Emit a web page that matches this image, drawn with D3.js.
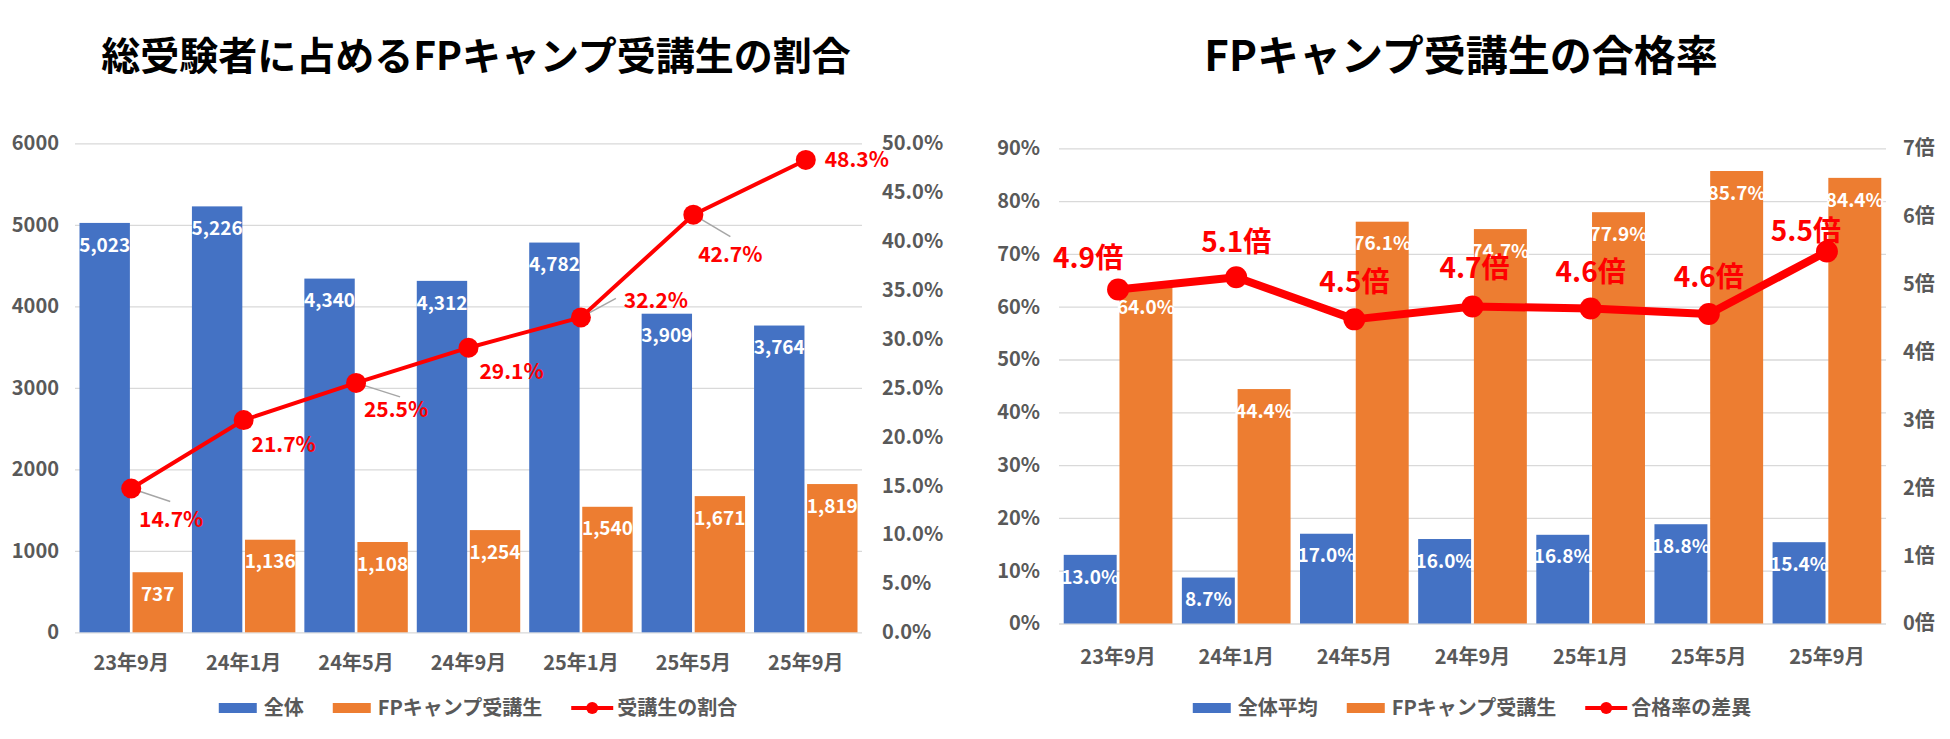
<!DOCTYPE html>
<html>
<head>
<meta charset="utf-8">
<script src="https://cdn.jsdelivr.net/npm/d3@7"></script>
<style>
	body { margin: 0; background: #fff; }
	svg { display: block; font-family: "Noto Sans CJK JP", "Noto Sans", sans-serif; }
	.title { font-size: 40px; font-weight: bold; fill: #000; }
	.axis text { fill: #595959; font-size: 20px; font-weight: bold; font-family: "Noto Sans CJK JP", "Noto Sans", sans-serif; }
	.axis .domain { display: none; }
	.grid line { stroke: #d9d9d9; stroke-width: 1.3; }
	.bar-label { fill: #fff; font-size: 19px; font-weight: bold; }
	.line-label { fill: #ff0000; font-weight: bold; }
	.leader { stroke: #a6a6a6; stroke-width: 1.5; }
	.legend text { fill: #595959; font-size: 20px; font-weight: bold; }
</style>
</head>
<body>
<svg width="1950" height="739"></svg>
<script>
var categories = ["23年9月", "24年1月", "24年5月", "24年9月", "25年1月", "25年5月", "25年9月"]

// 左: 総受験者に占めるFPキャンプ受講生の割合
var totalExaminees = [5023, 5226, 4340, 4312, 4782, 3909, 3764]
var campExaminees  = [737, 1136, 1108, 1254, 1540, 1671, 1819]
var campShare      = [14.7, 21.7, 25.5, 29.1, 32.2, 42.7, 48.3]
var countTicks     = [0, 1000, 2000, 3000, 4000, 5000, 6000]
var shareTicks     = [0, 5, 10, 15, 20, 25, 30, 35, 40, 45, 50]

// 右: FPキャンプ受講生の合格率
var overallPassRate = [13.0, 8.7, 17.0, 16.0, 16.8, 18.8, 15.4]
var campPassRate    = [64.0, 44.4, 76.1, 74.7, 77.9, 85.7, 84.4]
var passRatio       = [4.92, 5.10, 4.48, 4.67, 4.64, 4.56, 5.48]
var rateTicks       = [0, 10, 20, 30, 40, 50, 60, 70, 80, 90]
var ratioTicks      = [0, 1, 2, 3, 4, 5, 6, 7]

var blue = "#4472c4", orange = "#ed7d31", red = "#ff0000"

var svg = d3.select("svg")

function drawChart(opt){
	var g = svg.append("g")

	var x0 = d3.scaleBand().domain(categories).range([opt.left, opt.right])
	var bw = x0.bandwidth()
	var x1 = d3.scaleBand().domain([0, 1]).range([bw * 0.04, bw * 0.96]).paddingInner(0.05)
	var y  = d3.scaleLinear().domain([0, d3.max(opt.yTicks)]).range([opt.bottom, opt.top])
	var y2 = d3.scaleLinear().domain([0, d3.max(opt.y2Ticks)]).range([opt.bottom, opt.top])

	g.append("text")
		.attr("class", "title")
		.attr("x", opt.titleX)
		.attr("y", 56)
		.attr("dy", "0.35em")
		.attr("text-anchor", "middle")
		.style("font-size", opt.titleSize + "px")
		.text(opt.title)

	// grid + left labels
	g.append("g")
		.attr("class", "axis grid")
		.attr("transform", "translate(" + opt.left + ",0)")
		.call(d3.axisLeft(y).tickValues(opt.yTicks).tickSize(-(opt.right - opt.left)).tickPadding(opt.padL).tickFormat(opt.yFormat))

	g.append("g")
		.attr("class", "axis")
		.attr("transform", "translate(" + opt.right + ",0)")
		.call(d3.axisRight(y2).tickValues(opt.y2Ticks).tickSize(0).tickPadding(opt.padR).tickFormat(opt.y2Format))

	var xAxis = g.append("g")
		.attr("class", "axis")
		.attr("transform", "translate(0," + opt.bottom + ")")
		.call(d3.axisBottom(x0).tickSize(0))
	xAxis.selectAll("text").attr("y", opt.xLabelOffset).attr("dy", "0.35em")

	// bars
	opt.bars.forEach(function(s, i){
		var grp = g.append("g")
		grp.selectAll("rect")
				.data(s.values)
			.enter().append("rect")
				.attr("x", function(d, j){ return x0(categories[j]) + x1(i) })
				.attr("y", function(d){ return y(d) })
				.attr("width", x1.bandwidth())
				.attr("height", function(d){ return opt.bottom - y(d) })
				.attr("fill", s.color)
		grp.selectAll("text")
				.data(s.values)
			.enter().append("text")
				.attr("class", "bar-label")
				.attr("x", function(d, j){ return x0(categories[j]) + x1(i) + x1.bandwidth() / 2 })
				.attr("y", function(d){ return y(d) + 22 })
				.attr("dy", "0.35em")
				.attr("text-anchor", "middle")
				.text(function(d){ return opt.barFormat(d) })
	})

	// line
	var cx = function(j){ return x0(categories[j]) + bw / 2 }
	var line = d3.line()
		.x(function(d, j){ return cx(j) })
		.y(function(d){ return y2(d) })

	// leader lines under the markers
	var leaders = g.append("g")
	opt.line.values.forEach(function(d, j){
		if (!opt.leaders[j]) return
		leaders.append("line")
			.attr("class", "leader")
			.attr("x1", cx(j))
			.attr("y1", y2(d))
			.attr("x2", cx(j) + opt.leaders[j][0])
			.attr("y2", y2(d) + opt.leaders[j][1])
	})

	g.append("path")
		.datum(opt.line.values)
		.attr("fill", "none")
		.attr("stroke", red)
		.attr("stroke-width", opt.lineWidth)
		.attr("stroke-linejoin", "round")
		.attr("d", line)

	g.selectAll(".marker")
			.data(opt.line.values)
		.enter().append("circle")
			.attr("class", "marker")
			.attr("cx", function(d, j){ return cx(j) })
			.attr("cy", function(d){ return y2(d) })
			.attr("r", opt.markerR)
			.attr("fill", red)

	g.selectAll(".line-label")
			.data(opt.line.values)
		.enter().append("text")
			.attr("class", "line-label")
			.attr("x", function(d, j){ return cx(j) + opt.labelShift[j][0] })
			.attr("y", function(d, j){ return y2(d) + opt.labelShift[j][1] })
			.attr("dy", "0.35em")
			.attr("text-anchor", "middle")
			.style("font-size", opt.lineLabelSize + "px")
			.text(function(d){ return opt.lineFormat(d) })

	// legend
	var items = [
		{ name: opt.bars[0].name, color: opt.bars[0].color, type: "rect" },
		{ name: opt.bars[1].name, color: opt.bars[1].color, type: "rect" },
		{ name: opt.line.name, color: red, type: "line" }
	]
	var legend = g.append("g").attr("class", "legend")
	var xpos = 0
	items.forEach(function(it){
		var item = legend.append("g").attr("transform", "translate(" + xpos + ",0)")
		if (it.type == "rect") {
			item.append("rect").attr("x", 0).attr("y", -5).attr("width", 38).attr("height", 10).attr("fill", it.color)
		} else {
			item.append("line").attr("x1", 0).attr("x2", 42).attr("y1", 0).attr("y2", 0)
				.attr("stroke", red).attr("stroke-width", 4)
			item.append("circle").attr("cx", 21).attr("cy", 0).attr("r", 6).attr("fill", red)
		}
		var t = item.append("text")
			.attr("x", it.type == "rect" ? 45 : 46)
			.attr("dy", "0.35em")
			.text(it.name)
		xpos += (it.type == "rect" ? 45 : 46) + t.node().getComputedTextLength() + 29
	})
	var lw = xpos - 29
	legend.attr("transform", "translate(" + (opt.legendX - lw / 2) + ",708)")
}

drawChart({
	title: "総受験者に占めるFPキャンプ受講生の割合",
	titleX: 476, titleSize: 39,
	left: 75, right: 862, top: 143.3, bottom: 632.3,
	yTicks: countTicks, yFormat: d3.format("d"), padL: 16,
	y2Ticks: shareTicks, y2Format: function(d){ return d3.format(".1f")(d) + "%" }, padR: 20,
	xLabelOffset: 31,
	bars: [
		{ name: "全体", values: totalExaminees, color: blue },
		{ name: "FPキャンプ受講生", values: campExaminees, color: orange }
	],
	barFormat: d3.format(","),
	line: { name: "受講生の割合", values: campShare },
	lineWidth: 4, markerR: 10, lineLabelSize: 21,
	lineFormat: function(d){ return d3.format(".1f")(d) + "%" },
	labelShift: [[40, 31], [40, 25], [40, 27], [43, 24], [75, -17], [37, 40], [51, 0]],
	leaders: [[39, 13], null, [44, 14], null, [35, -19], [37, 22], null],
	legendX: 478
})

drawChart({
	title: "FPキャンプ受講生の合格率",
	titleX: 1461, titleSize: 42,
	left: 1059, right: 1886, top: 148.3, bottom: 623.5,
	yTicks: rateTicks, yFormat: function(d){ return d + "%" }, padL: 19,
	y2Ticks: ratioTicks, y2Format: function(d){ return d + "倍" }, padR: 17,
	xLabelOffset: 33,
	bars: [
		{ name: "全体平均", values: overallPassRate, color: blue },
		{ name: "FPキャンプ受講生", values: campPassRate, color: orange }
	],
	barFormat: function(d){ return d3.format(".1f")(d) + "%" },
	line: { name: "合格率の差異", values: passRatio },
	lineWidth: 8, markerR: 11, lineLabelSize: 28,
	lineFormat: function(d){ return d3.format(".1f")(d) + "倍" },
	labelShift: [[-30, -31], [0, -35], [0, -37], [2, -38], [0, -36], [0, -37], [-21, -20]],
	leaders: [null, null, null, null, null, null, null],
	legendX: 1472
})
</script>
</body>
</html>
